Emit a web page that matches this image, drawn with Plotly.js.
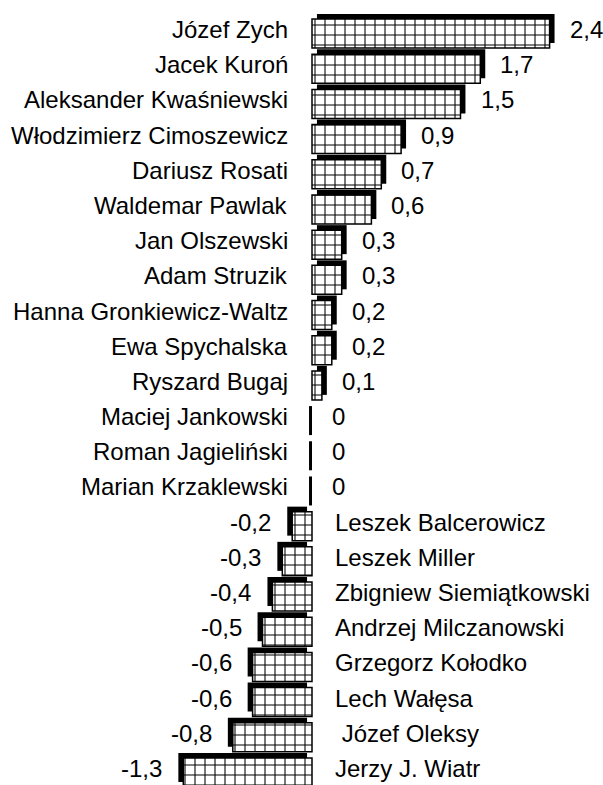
<!DOCTYPE html>
<html>
<head>
<meta charset="utf-8">
<script src="https://cdn.plot.ly/plotly-3.0.1.min.js"></script>
<style>html,body{margin:0;padding:0;background:#fff;}#chart{width:603px;height:785px;}</style>
</head>
<body>
<div id="chart"></div>
<script>
const names = [
  "Józef Zych", "Jacek Kuroń", "Aleksander Kwaśniewski", "Włodzimierz Cimoszewicz",
  "Dariusz Rosati", "Waldemar Pawlak", "Jan Olszewski", "Adam Struzik",
  "Hanna Gronkiewicz-Waltz", "Ewa Spychalska", "Ryszard Bugaj", "Maciej Jankowski",
  "Roman Jagieliński", "Marian Krzaklewski", "Leszek Balcerowicz", "Leszek Miller",
  "Zbigniew Siemiątkowski", "Andrzej Milczanowski", "Grzegorz Kołodko", "Lech Wałęsa",
  "\u00a0Józef Oleksy", "Jerzy J. Wiatr"
];
const values = [2.4, 1.7, 1.5, 0.9, 0.7, 0.6, 0.3, 0.3, 0.2, 0.2, 0.1, 0, 0, 0,
  -0.2, -0.3, -0.4, -0.5, -0.6, -0.6, -0.8, -1.3];

const FONT = "Liberation Sans, Arial, Helvetica, sans-serif";
const pos = names.map((_, i) => i);
const BW = 0.824;          // bar thickness (category units)
const SHY = 0.142;         // shadow vertical shift (category units)
const SHX = 0.05;          // shadow horizontal shift (value units)
const ZW = 0.03;           // width of zero mark

const fmt = v => v === 0 ? "0" : v.toFixed(1).replace(".", ",");

const shadow = {
  type: "bar", orientation: "h", y: pos,
  x: values.map(v => v === 0 ? null : v),
  base: values.map(v => v > 0 ? SHX : -SHX),
  width: BW, offset: -BW / 2 - SHY,
  marker: {color: "#000", line: {width: 0}},
  hoverinfo: "skip", showlegend: false
};
const zeros = {
  type: "bar", orientation: "h", y: pos,
  x: values.map(v => v === 0 ? ZW : null),
  base: values.map(() => -ZW),
  width: BW, offset: -BW / 2,
  marker: {color: "#000", line: {width: 0}},
  hoverinfo: "skip", showlegend: false
};
const main = {
  type: "bar", orientation: "h", y: pos,
  x: values.map(v => v === 0 ? null : v),
  width: BW, offset: -BW / 2,
  marker: {
    color: "#fff",
    line: {color: "#000", width: 1.5},
    pattern: {shape: "+", size: 10, solidity: 0.2, fgcolor: "#000", bgcolor: "#fff"}
  },
  hoverinfo: "skip", showlegend: false
};

const annotations = [];
values.forEach((v, i) => {
  const neg = v < 0;
  annotations.push({
    x: 0, y: i, xref: "x", yref: "y", text: names[i], showarrow: false,
    xanchor: neg ? "left" : "right", yanchor: "middle",
    xshift: neg ? 21 : -22, yshift: 4,
    font: {family: FONT, size: 24, color: "#000"}
  });
  annotations.push({
    x: v, y: i, xref: "x", yref: "y", text: fmt(v), showarrow: false,
    xanchor: neg ? "right" : "left", yanchor: "middle",
    xshift: neg ? -19 : 18, yshift: 4,
    font: {family: FONT, size: 24, color: "#000"}
  });
});

const layout = {
  width: 603, height: 785,
  margin: {l: 0, r: 0, t: 0, b: 0},
  paper_bgcolor: "#fff", plot_bgcolor: "#fff",
  barmode: "overlay",
  xaxis: {range: [-3.1515, 2.9394], visible: false, fixedrange: true},
  yaxis: {range: [21.356, -0.952], visible: false, fixedrange: true},
  annotations: annotations,
  showlegend: false
};

Plotly.newPlot("chart", [shadow, zeros, main], layout, {displayModeBar: false, staticPlot: true});
</script>
</body>
</html>
